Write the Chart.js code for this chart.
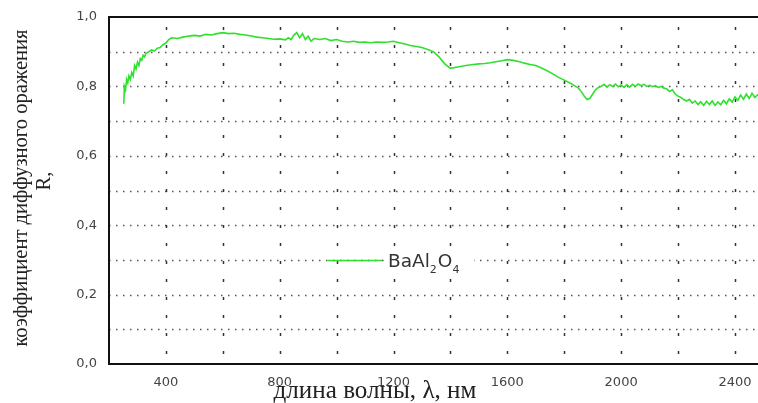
<!DOCTYPE html>
<html>
<head>
<meta charset="utf-8">
<script src="https://cdn.jsdelivr.net/npm/chart.js@4.4.1/dist/chart.umd.min.js"></script>
<style>
  html, body { margin: 0; padding: 0; background: #fff; }
  #wrap { width: 758px; height: 403px; }
</style>
</head>
<body>
<div id="wrap"><canvas id="c" width="758" height="403"></canvas></div>
<script>
// ---- data ----
const wavelengths = [
  252,254,258,262,266,270,275,280,285,290,295,300,305,310,315,320,325,330,340,350,
  360,370,380,390,400,410,420,440,460,480,500,520,540,560,580,600,620,640,660,680,
  700,720,740,760,780,800,820,830,840,850,860,870,880,890,900,910,920,940,960,980,
  1000,1020,1040,1060,1080,1100,1120,1140,1160,1180,1200,1220,1240,1260,1280,1300,1320,1340,1360,1380,
  1400,1420,1440,1460,1480,1500,1520,1540,1560,1580,1600,1620,1640,1660,1680,1700,1720,1740,1760,1780,
  1800,1820,1840,1850,1860,1870,1880,1890,1900,1910,1920,1930,1940,1950,1960,1970,1980,1990,2000,2010,
  2020,2030,2040,2050,2060,2070,2080,2090,2100,2110,2120,2130,2140,2150,2160,2170,2180,2190,2200,2210,
  2220,2230,2240,2250,2260,2270,2280,2290,2300,2310,2320,2330,2340,2350,2360,2370,2380,2390,2400,2410,
  2420,2430,2440,2450,2460,2470,2480,2490
];
const reflectance = [
  0.75,0.80,0.79,0.82,0.81,0.83,0.82,0.84,0.83,0.86,0.85,0.87,0.86,0.88,0.875,0.89,0.885,0.895,0.90,0.905,
  0.902,0.91,0.912,0.92,0.925,0.935,0.94,0.938,0.942,0.945,0.947,0.945,0.95,0.948,0.952,0.955,0.952,0.953,0.95,0.948,
  0.945,0.942,0.94,0.938,0.936,0.937,0.934,0.94,0.935,0.948,0.955,0.94,0.952,0.935,0.945,0.93,0.938,0.935,0.938,0.932,
  0.935,0.93,0.928,0.93,0.927,0.928,0.926,0.928,0.927,0.928,0.93,0.926,0.922,0.918,0.915,0.912,0.906,0.90,0.885,0.865,
  0.852,0.855,0.858,0.861,0.863,0.865,0.866,0.868,0.871,0.874,0.877,0.875,0.872,0.867,0.863,0.86,0.853,0.845,0.836,0.826,
  0.818,0.81,0.80,0.795,0.785,0.772,0.762,0.765,0.778,0.79,0.797,0.80,0.806,0.798,0.805,0.80,0.807,0.799,0.804,0.797,
  0.805,0.798,0.806,0.80,0.807,0.802,0.806,0.80,0.803,0.799,0.802,0.797,0.80,0.795,0.793,0.785,0.79,0.778,0.772,0.768,
  0.762,0.758,0.763,0.752,0.758,0.748,0.756,0.745,0.757,0.748,0.758,0.745,0.755,0.747,0.76,0.75,0.764,0.755,0.77,0.76,
  0.775,0.763,0.778,0.765,0.78,0.768,0.776,0.77
];
const seriesName = ['BaAl', '2', 'O', '4'];   // BaAl2O4 with subscripts
const xGridValues = [200,400,600,800,1000,1200,1400,1600,1800,2000,2200,2400];
const xTickLabels = ['400','800','1200','1600','2000','2400'];
const yGridValues = [0,0.1,0.2,0.3,0.4,0.5,0.6,0.7,0.8,0.9,1.0];
const yTickLabels = ['0,0','0,2','0,4','0,6','0,8','1,0'];
const xTitle = 'длина волны, λ, нм';
const yTitle = 'коэффициент диффузного оражения';
const yTitle2 = 'R,';

const GREEN = '#2fe02f';

function fitFont(ctx, text, family, target) {
  ctx.font = '20px ' + family;
  const w = ctx.measureText(text).width;
  return 20 * target / w;
}

const decor = {
  id: 'decor',
  beforeDatasetsDraw(chart) {
    const {ctx, chartArea: a, scales: {x, y}} = chart;
    ctx.save();
    // horizontal dotted grid
    ctx.strokeStyle = '#555';
    ctx.lineWidth = 1.3;
    ctx.setLineDash([1.5, 5.5]);
    y.ticks.forEach(t => {
      if (t.value <= y.min + 1e-6 || t.value >= y.max - 1e-6) return;
      const py = Math.round(y.getPixelForValue(t.value)) + 0.5;
      ctx.beginPath(); ctx.moveTo(a.left, py); ctx.lineTo(a.right, py); ctx.stroke();
    });
    // vertical dashed grid
    ctx.strokeStyle = '#333';
    ctx.lineWidth = 1.5;
    ctx.setLineDash([3, 15]);
    x.ticks.forEach(t => {
      if (t.value <= x.min + 1e-6 || t.value >= x.max - 1e-6) return;
      const px = Math.round(x.getPixelForValue(t.value)) + 0.5;
      ctx.beginPath(); ctx.moveTo(px, a.top + 10); ctx.lineTo(px, a.bottom); ctx.stroke();
    });
    ctx.restore();
  },
  afterDraw(chart) {
    const {ctx, chartArea: a, scales: {x, y}} = chart;
    ctx.save();
    // frame
    ctx.setLineDash([]);
    ctx.strokeStyle = '#111';
    ctx.lineWidth = 2;
    ctx.beginPath();
    ctx.moveTo(a.right + 2, a.top);
    ctx.lineTo(a.left, a.top);
    ctx.lineTo(a.left, a.bottom);
    ctx.lineTo(a.right + 2, a.bottom);
    ctx.stroke();

    // legend
    const ly = Math.round(y.getPixelForValue(0.3)) + 0.5;
    ctx.fillStyle = '#fff';
    ctx.fillRect(386, ly - 14, 88, 22);
    ctx.strokeStyle = GREEN;
    ctx.lineWidth = 1.6;
    ctx.beginPath(); ctx.moveTo(328, ly); ctx.lineTo(382, ly); ctx.stroke();
    ctx.fillStyle = '#333';
    ctx.textBaseline = 'alphabetic';
    ctx.textAlign = 'left';
    let tx = 388;
    const big = '18.5px "DejaVu Sans"', small = '11px "DejaVu Sans"';
    seriesName.forEach((s, i) => {
      const sub = i % 2 === 1;
      ctx.font = sub ? small : big;
      ctx.fillText(s, tx, sub ? ly + 12 : ly + 6);
      tx += ctx.measureText(s).width + (sub ? 1 : 0);
    });

    // axis titles
    ctx.fillStyle = '#222';
    ctx.textAlign = 'center';
    ctx.textBaseline = 'middle';
    const fx = fitFont(ctx, xTitle, '"Liberation Serif"', 203);
    ctx.font = fx.toFixed(1) + 'px "Liberation Serif"';
    ctx.fillText(xTitle, 375, 391);

    const fy = fitFont(ctx, yTitle, '"Liberation Serif"', 317);
    ctx.save();
    ctx.translate(22, 188);
    ctx.rotate(-Math.PI / 2);
    ctx.font = fy.toFixed(1) + 'px "Liberation Serif"';
    ctx.fillText(yTitle, 0, 0);
    ctx.restore();
    ctx.save();
    ctx.translate(45, 181);
    ctx.rotate(-Math.PI / 2);
    ctx.font = fy.toFixed(1) + 'px "Liberation Serif"';
    ctx.fillText(yTitle2, 0, 0);
    ctx.restore();
    ctx.restore();
  }
};

const points = wavelengths.map((w, i) => ({x: w, y: reflectance[i]}));

new Chart(document.getElementById('c'), {
  type: 'line',
  data: {
    datasets: [{
      label: 'BaAl2O4',
      data: points,
      borderColor: GREEN,
      borderWidth: 1.6,
      pointRadius: 0,
      tension: 0,
      fill: false
    }]
  },
  options: {
    responsive: false,
    animation: false,
    devicePixelRatio: 1,
    layout: { padding: { top: 17, right: 0, left: 0, bottom: 0 } },
    plugins: { legend: { display: false }, tooltip: { enabled: false } },
    scales: {
      x: {
        type: 'linear',
        min: 200,
        max: 2481,
        afterFit(s) { s.height = 39; },
        afterBuildTicks(s) { s.ticks = xGridValues.map(v => ({value: v})); },
        grid: { display: false },
        border: { display: false },
        ticks: {
          autoSkip: false,
          maxRotation: 0,
          padding: 3,
          color: '#444',
          font: { family: '"DejaVu Sans"', size: 13 },
          callback(v) {
            const idx = xTickLabels.indexOf(String(Math.round(v)));
            return idx >= 0 ? xTickLabels[idx] : '';
          }
        }
      },
      y: {
        min: 0,
        max: 1,
        afterFit(s) { s.width = 109; },
        afterBuildTicks(s) { s.ticks = yGridValues.map(v => ({value: v})); },
        grid: { display: false },
        border: { display: false },
        ticks: {
          autoSkip: false,
          padding: 4,
          color: '#444',
          font: { family: '"DejaVu Sans"', size: 13 },
          callback(v) {
            const k = Math.round(v * 10);
            return k % 2 === 0 ? yTickLabels[k / 2] : '';
          }
        }
      }
    }
  },
  plugins: [decor]
});
</script>
</body>
</html>
